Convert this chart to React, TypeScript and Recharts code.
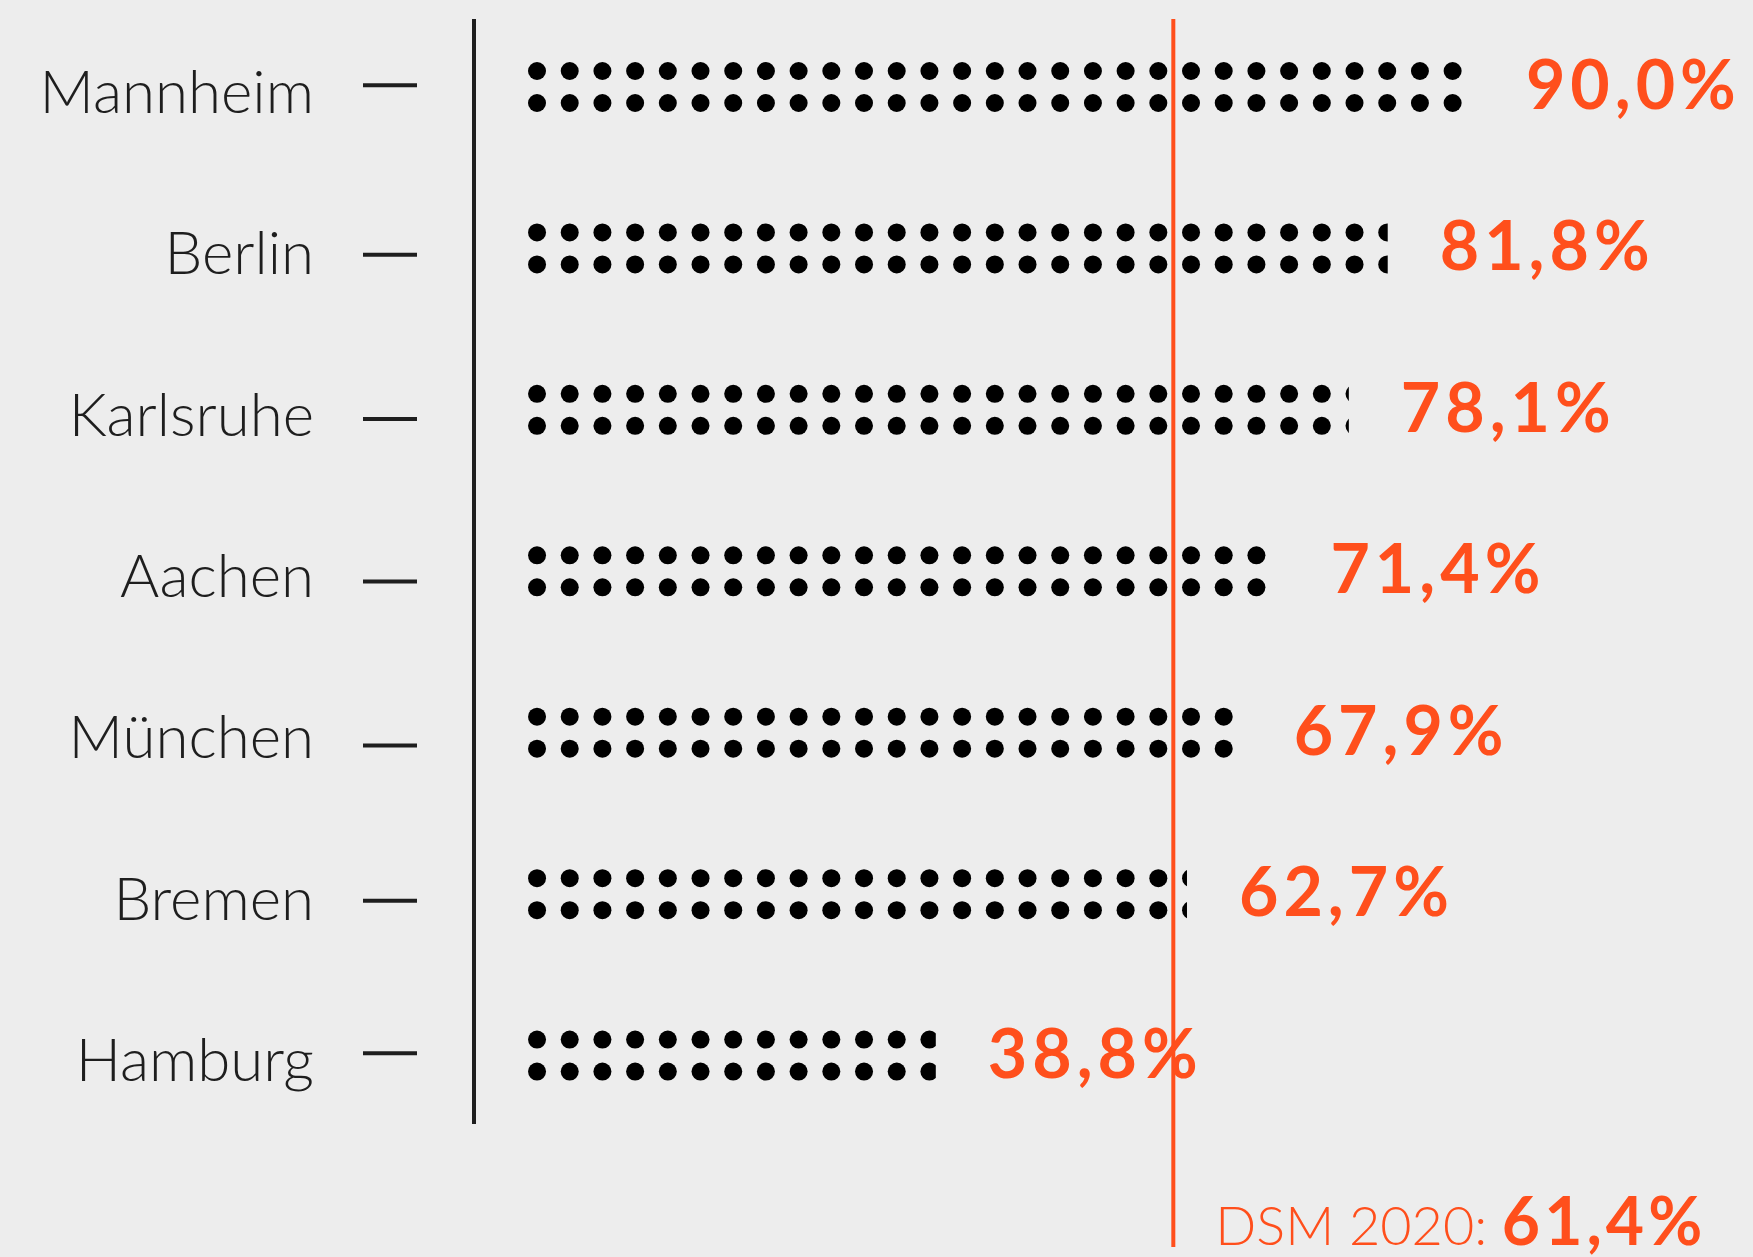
import { BarChart, Bar, XAxis, YAxis, ReferenceLine, LabelList } from 'recharts';

// Anteil je Stadt (in %), von oben nach unten
const cities = ['Mannheim', 'Berlin', 'Karlsruhe', 'Aachen', 'München', 'Bremen', 'Hamburg'];
const shares = [90.0, 81.8, 78.1, 71.4, 67.9, 62.7, 38.8];

// Referenzwert
const dsmLabel = 'DSM 2020:';
const dsmShare = 61.4;

const data = cities.map((city, i) => ({ city, share: shares[i] }));

const BG = '#ededed';
const ORANGE = '#ff4f1c';
const INK = '#1e1e1e';

const W = 1753;
const H = 1257;

// the axis line sits a little left of zero
const X_MIN = -5.14;

// the little dashes next to the names are placed by hand in the original
const DASH_NUDGE = [-1.5, 6.5, 9.5, 10.5, 13, 7, -2];

const fmt = (v: number) => v.toFixed(1).replace('.', ',') + '%';

function DotBar(props: any) {
  const { x, y, width, height, index } = props;
  const r = 9;
  const step = 32.7;
  const mid = y + height / 2;
  const rows = [mid - 16, mid + 16];
  const dots: any[] = [];
  for (let cx = x + r; cx - r < x + width; cx += step) {
    rows.forEach((cy, j) => {
      dots.push(<circle key={`${cx}-${j}`} cx={cx} cy={cy} r={r} fill="#000" />);
    });
  }
  const id = `dot-clip-${index}`;
  return (
    <g>
      <clipPath id={id}>
        <rect x={x} y={y} width={width} height={height} />
      </clipPath>
      <g clipPath={`url(#${id})`}>{dots}</g>
    </g>
  );
}

function ValueLabel(props: any) {
  const { x, y, width, height, value } = props;
  return (
    <text
      x={x + width + 52}
      y={y + height / 2 + 22}
      fill={ORANGE}
      fontFamily="Lato"
      fontWeight={700}
      fontSize={68}
      letterSpacing={5}
    >
      {fmt(value)}
    </text>
  );
}

function CityTick(props: any) {
  const { x, y, payload, index } = props;
  const dy = DASH_NUDGE[index] ?? 0;
  return (
    <g>
      <text
        x={x - 160}
        y={y + 26}
        textAnchor="end"
        fill={INK}
        fontFamily="Lato"
        fontWeight={300}
        fontSize={60}
      >
        {payload.value}
      </text>
      <line x1={x - 111} x2={x - 57} y1={y + dy} y2={y + dy} stroke={INK} strokeWidth={4} />
    </g>
  );
}

function DsmLine(props: any) {
  const { x1, y1, y2 } = props;
  const top = Math.min(y1, y2);
  const bottom = Math.max(y1, y2) + 123;
  return (
    <g>
      <line x1={x1} x2={x1} y1={top} y2={bottom} stroke={ORANGE} strokeWidth={4} />
      <text x={x1 + 42} y={bottom - 2} fill={ORANGE} fontFamily="Lato">
        <tspan fontWeight={300} fontSize={54}>{dsmLabel} </tspan>
        <tspan fontWeight={700} fontSize={66} letterSpacing={4}>{fmt(dsmShare)}</tspan>
      </text>
    </g>
  );
}

export default function App() {
  return (
    <div style={{ position: 'absolute', left: 0, top: 0, width: W, height: H, background: BG }}>
      <BarChart
        width={W}
        height={H}
        data={data}
        layout="vertical"
        margin={{ top: 19, right: 174, bottom: 133, left: 0 }}
      >
        <XAxis type="number" domain={[X_MIN, 100]} hide allowDataOverflow />
        <YAxis
          type="category"
          dataKey="city"
          width={474}
          tickLine={false}
          tickSize={0}
          tickMargin={0}
          axisLine={{ stroke: INK, strokeWidth: 4 }}
          padding={{ top: -13, bottom: -12 }}
          tick={<CityTick />}
          interval={0}
        />
        <ReferenceLine x={dsmShare} shape={<DsmLine />} />
        <Bar dataKey="share" barSize={52} shape={<DotBar />} isAnimationActive={false}>
          <LabelList dataKey="share" content={<ValueLabel />} />
        </Bar>
      </BarChart>
    </div>
  );
}
